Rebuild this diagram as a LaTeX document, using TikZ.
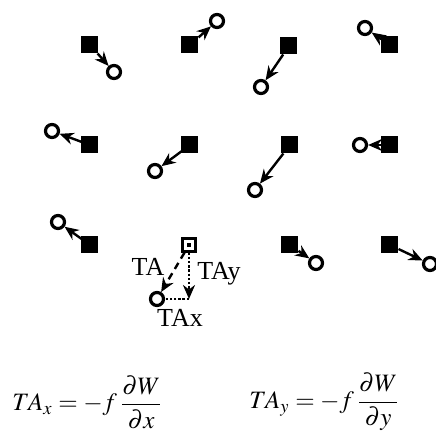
\documentclass[tikz,border=0pt]{standalone}
\usepackage{amsmath}
\usepackage{mathptmx}
\usepackage{fontspec}
\setmainfont{Liberation Serif}
\usepackage{tikz}
\usetikzlibrary{arrows.meta}
\tikzset{
  sq/.style={fill=black, minimum size=8.5pt, inner sep=0pt, outer sep=0pt},
  osq/.style={draw=black, fill=white, line width=1.1pt, minimum size=6.5pt, inner sep=0pt},
  ci/.style={draw=black, circle, line width=1.6pt, minimum size=6.5pt, inner sep=0pt},
  vec/.style={line width=1.2pt, -{Stealth[length=7pt,width=6pt]}},
  lbl/.style={font=\fontsize{13}{15}\selectfont, inner sep=0pt}
}

\begin{document}
\begin{tikzpicture}[x=0.5pt, y=-0.5pt]
  \useasboundingbox (0,0) rectangle (436,433);
  % row 1
  \node[sq] (s1) at (90,45) {};   \node[ci] (c1) at (114,72) {};
  \node[sq] (s2) at (190,45) {};  \node[ci] (c2) at (217,21) {};
  \node[sq] (s3) at (289,46) {};  \node[ci] (c3) at (261,87) {};
  \node[sq] (s4) at (390,45) {};  \node[ci] (c4) at (365,28) {};
  % row 2
  \node[sq] (s5) at (90,145) {};  \node[ci] (c5) at (52,131) {};
  \node[sq] (s6) at (190,145) {}; \node[ci] (c6) at (155,171) {};
  \node[sq] (s7) at (290,145) {}; \node[ci] (c7) at (255,190) {};
  \node[sq] (s8) at (390,145) {}; \node[ci] (c8) at (360,145) {};
  % row 3
  \node[sq] (s9) at (90,245) {};  \node[ci] (c9) at (58,222) {};
  \node[sq] (s11) at (290,245) {}; \node[ci] (c11) at (316,263) {};
  \node[sq] (s12) at (390,245) {}; \node[ci] (c12) at (430,264) {};
  \foreach \i in {1,...,9,11,12}
    \draw[vec] (s\i) -- (c\i);

  % decomposed displacement
  \node[osq] (os) at (189,245) {};
  \node[sq, minimum size=2.2pt] (od) at (189,245) {};
  \node[ci] (cc) at (157,299) {};
  \coordinate (corner) at (189,299);
  \draw[vec, dash pattern=on 3.5pt off 2.5pt] (os) -- (cc);
  \draw[vec, dash pattern=on 1.2pt off 0.9pt] (os) -- (corner);
  \draw[line width=1.2pt, dash pattern=on 1.2pt off 0.9pt] (corner) -- (cc);
  \node[lbl] (ta) at (148,267) {TA};
  \node[lbl] (tay) at (219,274) {TAy};
  \node[lbl] (tax) at (180,318) {TAx};

  % formulas
  \node[lbl, font=\fontsize{12.5}{15}\selectfont, anchor=west] (eqx) at (12,402)
    {$\displaystyle TA_x=-f\,\frac{\partial W}{\partial x}$};
  \node[lbl, font=\fontsize{12.5}{15}\selectfont, anchor=west] (eqy) at (249,402)
    {$\displaystyle TA_y=-f\,\frac{\partial W}{\partial y}$};
\end{tikzpicture}
\end{document}
